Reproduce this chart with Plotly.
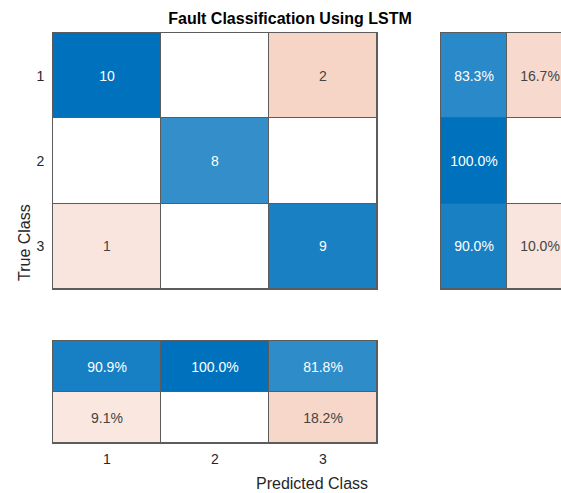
import numpy as np
import plotly.graph_objects as go

# ---------- data ----------
classes = ["1", "2", "3"]
# rows = true class, cols = predicted class
counts = np.array([
    [10, 0, 2],
    [0, 8, 0],
    [1, 0, 9],
])

row_tot = counts.sum(axis=1)
col_tot = counts.sum(axis=0)
diag = np.diag(counts)
row_pct = np.column_stack([diag / row_tot * 100, (row_tot - diag) / row_tot * 100])   # 3x2
col_pct = np.vstack([diag / col_tot * 100, (col_tot - diag) / col_tot * 100])         # 2x3

BLUE = (0, 114, 189)
ORANGE = (217, 83, 25)
EDGE = "#5c5c5c"
FONT = "Liberation Sans, Arial, sans-serif"

# signed intensity: + => blue (correct), - => orange (wrong), 0 => white
colorscale = [
    [0.0, "rgb(%d,%d,%d)" % ORANGE],
    [0.5, "rgb(255,255,255)"],
    [1.0, "rgb(%d,%d,%d)" % BLUE],
]


def off_level(frac):
    return 0.0 if frac <= 0 else -(0.05 + frac)


# main matrix
z_main = np.zeros(counts.shape)
t_main = []
vmax = counts.max()
for i in range(3):
    row = []
    for j in range(3):
        v = counts[i, j]
        z_main[i, j] = v / vmax if i == j else off_level(v / vmax)
        row.append(str(v) if v else "")
    t_main.append(row)

# row summary
z_row = np.zeros(row_pct.shape)
t_row = []
for i in range(3):
    z_row[i, 0] = row_pct[i, 0] / 100
    z_row[i, 1] = off_level(row_pct[i, 1] / 100)
    t_row.append([f"{p:.1f}%" if p > 0 else "" for p in row_pct[i]])

# column summary
z_col = np.zeros(col_pct.shape)
t_col = []
for i in range(2):
    r = []
    for j in range(3):
        p = col_pct[i, j]
        z_col[i, j] = p / 100 if i == 0 else off_level(p / 100)
        r.append(f"{p:.1f}%" if p > 0 else "")
    t_col.append(r)

W, H = 561, 493


def px(x0, x1):
    return [x0 / W, min(x1 / W, 1.0)]


def py(top, bottom):
    return [1 - bottom / H, 1 - top / H]


hm = dict(colorscale=colorscale, zmin=-1, zmax=1, showscale=False,
          xgap=1, ygap=1, texttemplate="%{text}", hoverinfo="skip",
          textfont=dict(family=FONT, size=14))

fig = go.Figure()
fig.add_trace(go.Heatmap(z=z_main, x=[1, 2, 3], y=[1, 2, 3], text=t_main,
                         xaxis="x", yaxis="y", **hm))
fig.add_trace(go.Heatmap(z=z_row, x=[1, 2], y=[1, 2, 3], text=t_row,
                         xaxis="x2", yaxis="y2", **hm))
fig.add_trace(go.Heatmap(z=z_col, x=[1, 2, 3], y=[1, 2], text=t_col,
                         xaxis="x3", yaxis="y3", **hm))

ax = dict(showgrid=False, zeroline=False, ticks="", showline=True,
          linecolor=EDGE, linewidth=1,
          tickfont=dict(family=FONT, size=14, color="#262626"))

# row-summary width in px is cut by the window edge (66 px per column)
rs_w = W - 441
fig.update_layout(
    width=W, height=H,
    margin=dict(l=0, r=0, t=0, b=0),
    paper_bgcolor="white", plot_bgcolor=EDGE,
    title=dict(text="<b>Fault Classification Using LSTM</b>", x=290 / W, y=1 - 18 / H,
               xanchor="center", yanchor="middle",
               font=dict(family=FONT, size=16, color="black")),
    xaxis=dict(domain=px(53, 377), range=[0.5, 3.5], showticklabels=False, mirror=True, **ax),
    yaxis=dict(domain=py(33, 289), range=[3.5, 0.5], tickvals=[1, 2, 3], ticktext=classes,
               mirror=True, ticklabelstandoff=5, **ax),
    xaxis2=dict(domain=px(441, W), range=[0.5, 0.5 + rs_w / 66], showticklabels=False,
                anchor="y2", mirror=True, **ax),
    yaxis2=dict(domain=py(33, 289), range=[3.5, 0.5], showticklabels=False, anchor="x2",
                **ax),
    xaxis3=dict(domain=px(53, 377), range=[0.5, 3.5], tickvals=[1, 2, 3], ticktext=classes,
                anchor="y3", mirror=True, ticklabelstandoff=3, **ax),
    yaxis3=dict(domain=py(341, 443), range=[2.5, 0.5], showticklabels=False, anchor="x3",
                mirror=True, **ax),
    annotations=[
        dict(text="True Class", x=24 / W, y=1 - 243 / H, xref="paper", yref="paper",
             xanchor="center", yanchor="middle",
             textangle=-90, showarrow=False, font=dict(family=FONT, size=16, color="#262626")),
        dict(text="Predicted Class", x=312 / W, y=1 - 483 / H, xref="paper", yref="paper",
             xanchor="center", yanchor="middle",
             showarrow=False, font=dict(family=FONT, size=16, color="#262626")),
    ],
)

fig.write_html("out.html", config={"displayModeBar": False},
               post_script="document.body.style.margin='0';")
